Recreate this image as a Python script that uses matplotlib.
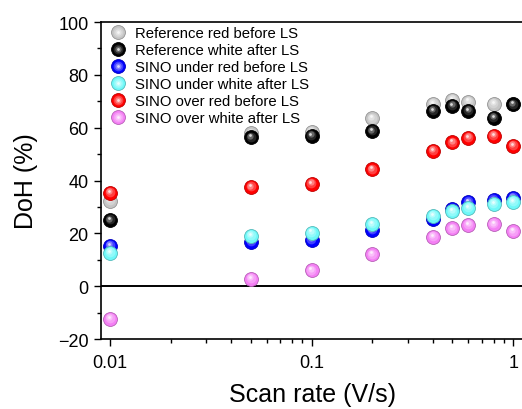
import matplotlib

matplotlib.use("Agg")
import matplotlib.pyplot as plt
import matplotlib.transforms as mtransforms
from matplotlib.colors import to_rgb
from matplotlib.legend_handler import HandlerTuple
from matplotlib.ticker import MultipleLocator
import numpy as np

plt.rcParams["font.family"] = ["Liberation Sans", "DejaVu Sans"]

scan_rate = [0.01, 0.05, 0.1, 0.2, 0.4, 0.5, 0.6, 0.8, 1.0]

ref_red_before = [32.4, 57.8, 58.4, 63.5, 69.0, 70.5, 69.9, 69.0, 69.0]
ref_white_after = [25.0, 56.3, 56.9, 58.7, 66.4, 68.2, 66.4, 63.8, 68.8]
sino_under_red_before = [15.2, 16.9, 17.5, 21.2, 25.4, 29.2, 31.8, 32.6, 33.4]
sino_under_white_after = [12.7, 19.0, 20.3, 23.5, 26.7, 28.3, 29.6, 31.1, 32.0]
sino_over_red_before = [35.3, 37.5, 38.7, 44.2, 51.2, 54.4, 56.2, 56.9, 53.1]
sino_over_white_after = [-12.3, 2.8, 6.0, 12.0, 18.7, 21.9, 23.2, 23.5, 20.7]

series = [
    ("Reference red before LS", ref_red_before, "#c4c4c4"),
    ("Reference white after LS", ref_white_after, "#000000"),
    ("SINO under red before LS", sino_under_red_before, "#0000ff"),
    ("SINO under white after LS", sino_under_white_after, "#6ef8f8"),
    ("SINO over red before LS", sino_over_red_before, "#ff0000"),
    ("SINO over white after LS", sino_over_white_after, "#f47ff4"),
]


def _mix(color, amount):
    c = np.array(to_rgb(color))
    return tuple(c + (1 - c) * amount)


def _dark(color, amount):
    c = np.array(to_rgb(color))
    return tuple(c * (1 - amount))


fig = plt.figure(figsize=(5.22, 4.10), dpi=100)
ax = fig.add_axes([0.1935, 0.1707, 0.81, 0.7732])

ms = 10.0
# sphere look: base ball, then lighter discs shifted towards the top
layers = [(0.0, 1.0, 0.0), (0.25, 0.7, 0.5), (0.5, 0.45, 1.1), (0.85, 0.2, 1.5)]
black_light = [0.0, 0.15, 0.4, 0.85]
handles = []
for label, values, color in series:
    parts = []
    is_black = color == "#000000"
    base_edge = "#000000" if is_black else _dark(color, 0.25)
    for k, (light, scale, shift) in enumerate(layers):
        trans = mtransforms.offset_copy(ax.transData, fig=fig, x=-0.5 * shift, y=shift, units="points")
        face = _mix(color, black_light[k] if is_black else light)
        (line,) = ax.plot(
            scan_rate, values, linestyle="none", marker="o", markersize=ms * scale,
            markerfacecolor=face, markeredgecolor=base_edge if k == 0 else face,
            markeredgewidth=0.6 if k == 0 else 0, transform=trans, clip_on=False,
        )
        parts.append(line)
    handles.append(tuple(parts))

ax.axhline(0, color="black", linewidth=1.4, zorder=1)

ax.set_xscale("log")
ax.set_xlim(0.00903, 1.13)
ax.set_ylim(-20, 100)
ax.set_xticks([0.01, 0.1, 1])
ax.set_xticklabels(["0.01", "0.1", "1"])
ax.yaxis.set_major_locator(MultipleLocator(20))
ax.yaxis.set_minor_locator(MultipleLocator(10))

for side in ("left", "bottom", "top"):
    ax.spines[side].set_linewidth(1.2)
ax.spines["right"].set_visible(False)
ax.tick_params(which="major", direction="out", length=5, width=1.0, labelsize=13, pad=4)
ax.tick_params(which="minor", direction="out", length=3, width=1.0)
ax.tick_params(axis="x", which="major", pad=6)

ax.set_xlabel("Scan rate (V/s)", fontsize=18, labelpad=8)
ax.set_ylabel("DoH (%)", fontsize=18, labelpad=14)

ax.legend(
    handles, [s[0] for s in series], handler_map={tuple: HandlerTuple(ndivide=1)},
    loc="upper left", bbox_to_anchor=(0.012, 1.0), frameon=False, fontsize=10.7,
    handlelength=1.0, handletextpad=0.65, labelspacing=0.2, borderaxespad=0.0,
    borderpad=0.3,
)

fig.savefig("out.png", dpi=100)
